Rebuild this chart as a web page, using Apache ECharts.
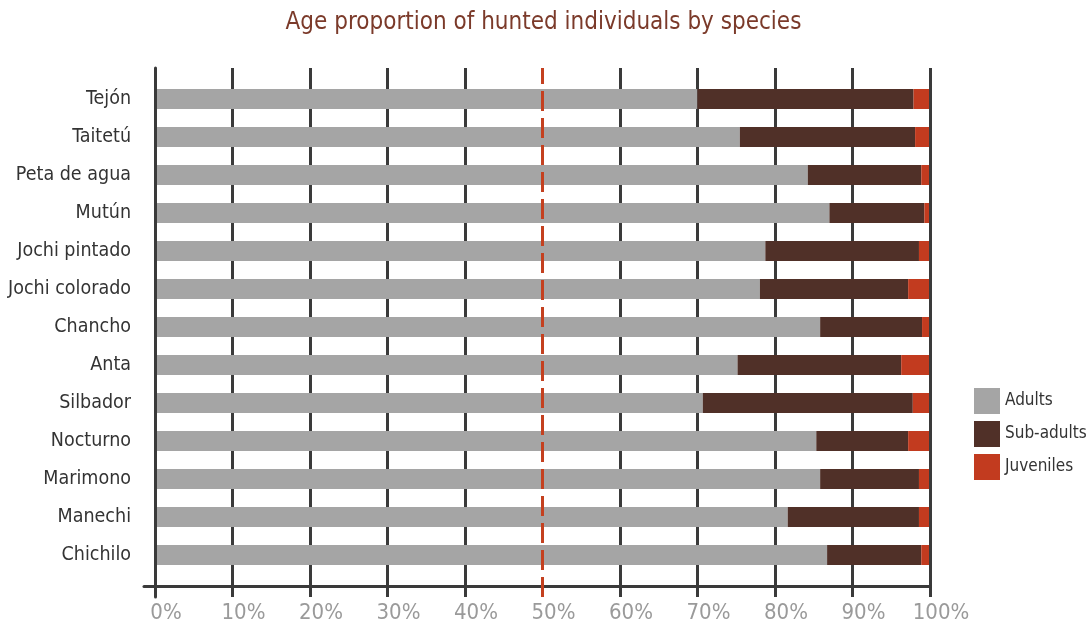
<!DOCTYPE html>
<html>
<head>
<meta charset="utf-8">
<style>
  html, body { margin: 0; padding: 0; background: #fff; }
  #chart { width: 1087px; height: 634px; }
</style>
<script src="https://cdn.jsdelivr.net/npm/echarts@6/dist/echarts.min.js"></script>
</head>
<body>
<div id="chart"></div>
<script>
// Species, top to bottom
const species = ['Tejón', 'Taitetú', 'Peta de agua', 'Mutún', 'Jochi pintado', 'Jochi colorado',
  'Chancho', 'Anta', 'Silbador', 'Nocturno', 'Marimono', 'Manechi', 'Chichilo'];

// Share of hunted individuals per age class (%)
const adults    = [70.0, 75.5, 84.3, 87.1, 78.8, 78.1, 85.9, 75.2, 70.7, 85.4, 85.9, 81.7, 86.8];
const subAdults = [28.0, 22.7, 14.7, 12.3, 19.9, 19.2, 13.2, 21.2, 27.2, 11.9, 12.8, 17.0, 12.2];
const juveniles = [ 2.0,  1.8,  1.0,  0.6,  1.3,  2.7,  0.9,  3.6,  2.1,  2.7,  1.3,  1.3,  1.0];

// Axis ticks (%)
const tickValues = [0, 10, 20, 30, 40, 50, 60, 70, 80, 90, 100];
const halfMark = 50;

const FONT = "'Liberation Sans Narrow', 'DejaVu Sans Condensed', 'Roboto Condensed', 'Noto Sans', sans-serif";
const AXIS_DARK = '#3a3a3a';
const RED = '#c4401f';

const chart = echarts.init(document.getElementById('chart'), null, { renderer: 'canvas' });

const option = {
  animation: false,
  backgroundColor: '#fff',
  textStyle: { fontFamily: FONT },
  title: {
    text: 'Age proportion of hunted individuals by species',
    left: 'center',
    top: 6,
    textStyle: { fontFamily: FONT, fontSize: 24, fontWeight: 'normal', color: '#7b3a2a' }
  },
  legend: {
    orient: 'vertical',
    left: 969,
    top: 383,
    icon: 'rect',
    itemWidth: 26,
    itemHeight: 26,
    itemGap: 7,
    itemStyle: { borderWidth: 0 },
    textStyle: { fontFamily: FONT, fontSize: 17, color: '#333' },
    data: ['Adults', 'Sub-adults', 'Juveniles']
  },
  grid: [
    // frame: grid lines, percent labels, vertical axis
    { left: 155, right: 157, top: 68, bottom: 37 },
    // bars, starting just right of the vertical axis line
    { left: 157, right: 158, top: 80, bottom: 60 },
    // horizontal baseline
    { left: 144, right: 157, top: 68, bottom: 48 }
  ],
  xAxis: [
    {
      gridIndex: 0, type: 'value', min: 0, max: 100, interval: 10,
      axisLine: { show: false },
      axisTick: { show: false },
      splitLine: {
        show: true,
        lineStyle: {
          width: 3,
          color: tickValues.map(v => v === halfMark ? 'rgba(0,0,0,0)' : AXIS_DARK)
        }
      },
      axisLabel: {
        margin: 5,
        padding: [0, 0, 0, 22],
        fontFamily: FONT,
        fontSize: 22,
        color: v => (v === halfMark ? RED : '#9a9a9a'),
        formatter: v => v + '%'
      }
    },
    { gridIndex: 1, type: 'value', min: 0, max: 100, show: false },
    {
      gridIndex: 2, type: 'value', min: 0, max: 100,
      axisLine: { show: true, lineStyle: { color: AXIS_DARK, width: 3 } },
      axisTick: { show: false }, axisLabel: { show: false }, splitLine: { show: false }
    }
  ],
  yAxis: [
    {
      gridIndex: 0, type: 'value', min: 0, max: 1, z: 10,
      axisLine: { show: true, lineStyle: { color: AXIS_DARK, width: 3 } },
      axisTick: { show: false }, axisLabel: { show: false }, splitLine: { show: false }
    },
    {
      gridIndex: 1, type: 'category', inverse: true, data: species,
      axisLine: { show: false }, axisTick: { show: false }, splitLine: { show: false },
      axisLabel: { margin: 26, fontFamily: FONT, fontSize: 19.5, color: '#333' }
    },
    {
      gridIndex: 2, type: 'value', min: 0, max: 1, show: false
    }
  ],
  series: [
    {
      name: 'Adults', type: 'bar', stack: 'age', xAxisIndex: 1, yAxisIndex: 1,
      barWidth: 20, itemStyle: { color: '#a5a5a5' }, data: adults, z: 3
    },
    {
      name: 'Sub-adults', type: 'bar', stack: 'age', xAxisIndex: 1, yAxisIndex: 1,
      barWidth: 20, itemStyle: { color: '#503028' }, data: subAdults, z: 3
    },
    {
      name: 'Juveniles', type: 'bar', stack: 'age', xAxisIndex: 1, yAxisIndex: 1,
      barWidth: 20, itemStyle: { color: '#c23b1f' }, data: juveniles, z: 3
    },
    {
      // dashed 50% reference line across the whole frame
      name: 'half', type: 'line', xAxisIndex: 0, yAxisIndex: 0,
      data: [[halfMark, 0]], showSymbol: false, symbolSize: 0, lineStyle: { opacity: 0 },
      silent: true, z: 6,
      markLine: {
        silent: true,
        symbol: 'none',
        label: { show: false },
        lineStyle: { color: RED, width: 3, type: [20, 7] },
        data: [{ xAxis: halfMark }],
        z: 6
      }
    }
  ]
};

chart.setOption(option);
</script>
</body>
</html>
